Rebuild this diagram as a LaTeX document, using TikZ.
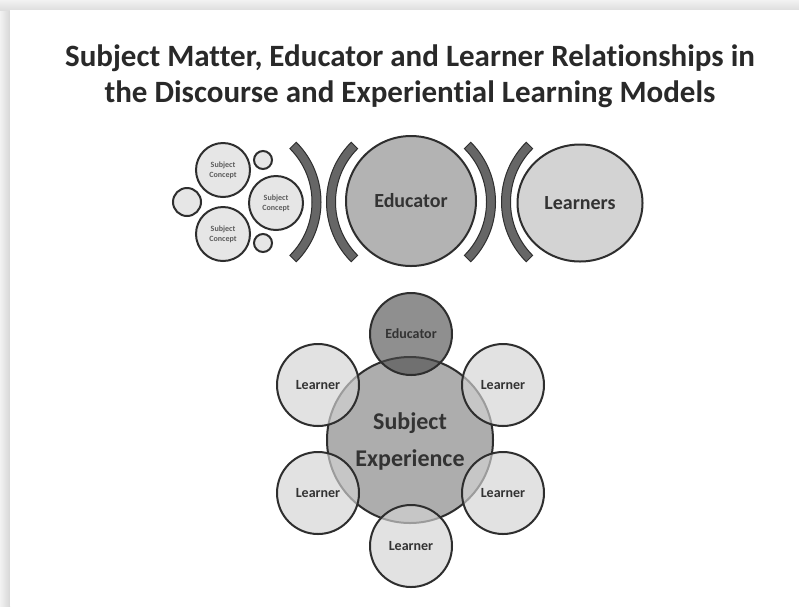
\documentclass[tikz,border=0pt]{standalone}
\usepackage{fontspec}
\setmainfont[Ligatures=NoCommon]{Carlito}
\usetikzlibrary{calc,shapes.geometric}
\definecolor{ink}{HTML}{2E2E2E}
\definecolor{txt}{HTML}{333333}
\definecolor{band}{HTML}{666666}
\definecolor{pale}{HTML}{E6E6E6}
\definecolor{midgray}{HTML}{B3B3B3}
\definecolor{lightgray}{HTML}{D3D3D3}
\definecolor{bigfill}{HTML}{ADADAD}
\definecolor{edufill}{HTML}{4B4B4B}
\definecolor{lrnfill}{HTML}{D4D4D4}
\begin{document}
\begin{tikzpicture}[x=1pt,y=-1pt,
  ring/.style={circle,draw=ink,line width=2pt,inner sep=0pt,text=txt,font=\bfseries},
  concept/.style={ring,fill=pale,minimum size=54pt,align=center,
    font=\bfseries\fontsize{8}{10}\selectfont,text=txt!80},
  dot/.style={ring,fill=pale},
  arcband/.style={draw=ink,line width=1pt,fill=band},
  learner/.style={ring,fill=lrnfill,fill opacity=0.66,text opacity=1,
    minimum size=82pt,font=\bfseries\fontsize{14}{16}\selectfont},
]
\useasboundingbox (0,0) rectangle (799,606);
% panel and its shadow
\fill[black!7] (0,0) rectangle (799,606);
\shade[left color=black!5,right color=black!16] (0,10) rectangle (10,606);
\shade[top color=black!5,bottom color=black!13] (0,0) rectangle (799,10);
\fill[white] (10,10) rectangle (799,606);

% title
\node[font=\bfseries\fontsize{31}{36}\selectfont,text=ink!90!black,align=center] (title) at (410,76)
  {Subject Matter, Educator and Learner Relationships in\\the Discourse and Experiential Learning Models};

% discourse model
\node[concept] (c1) at (223,170) {Subject\\Concept};
\node[concept] (c2) at (276,203) {Subject\\Concept};
\node[concept] (c3) at (223,234) {Subject\\Concept};
\node[dot,minimum size=28pt] (d1) at (187,202) {};
\node[dot,minimum size=18pt] (d2) at (263,160) {};
\node[dot,minimum size=18pt] (d3) at (263,243) {};

\node[ring,fill=midgray,minimum size=130pt,font=\bfseries\fontsize{20}{22}\selectfont] (edu) at (411,201) {Educator};
\node[ring,fill=lightgray,ellipse,minimum width=125pt,minimum height=117pt,
  font=\bfseries\fontsize{20}{22}\selectfont] (lrn) at (580,203) {Learners};

\coordinate (a1) at (236.5,202);
\coordinate (a2) at (411,202);
\coordinate (a4) at (586,202);
% ")" bands
\foreach \cc in {a1,a2}{
  \draw[arcband] ([shift={(-45:75.5)}]\cc) arc[start angle=-45,end angle=45,radius=75.5]
    -- ([shift={(45:84.5)}]\cc) arc[start angle=45,end angle=-45,radius=84.5] -- cycle;}
% "(" bands
\foreach \cc in {a2,a4}{
  \draw[arcband] ([shift={(135:75.5)}]\cc) arc[start angle=135,end angle=225,radius=75.5]
    -- ([shift={(225:84.5)}]\cc) arc[start angle=225,end angle=135,radius=84.5] -- cycle;}

% experiential model
\node[ring,fill=bigfill,minimum size=166pt] (subj) at (410,440) {};
\node[ring,fill=edufill,fill opacity=0.62,text opacity=1,minimum size=82pt,
  font=\bfseries\fontsize{14}{16}\selectfont,text=txt] (edu2) at (411,334) {Educator};
\node[learner] (l1) at (318,385) {Learner};
\node[learner] (l2) at (503,385) {Learner};
\node[learner] (l3) at (318,493) {Learner};
\node[learner] (l4) at (503,493) {Learner};
\node[learner] (l5) at (411,546) {Learner};
\node[font=\bfseries\fontsize{24}{37}\selectfont,text=txt,align=center] (subjtext) at (410,441)
  {Subject\\Experience};
\end{tikzpicture}
\end{document}
